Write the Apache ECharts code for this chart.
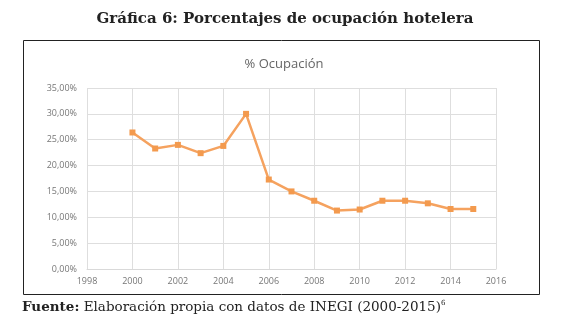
<!DOCTYPE html>
<html>
<head>
<meta charset="utf-8">
<script src="https://cdn.jsdelivr.net/npm/echarts@6/dist/echarts.min.js"></script>
<style>
	html, body { margin: 0; padding: 0; background: #fff; }
	#main { width: 577px; height: 323px; }
</style>
</head>
<body>
<div id="main"></div>
<script>
// años y porcentaje de ocupación
const years = [2000, 2001, 2002, 2003, 2004, 2005, 2006, 2007, 2008, 2009, 2010, 2011, 2012, 2013, 2014, 2015];
const ocupacion = [26.4, 23.3, 24.0, 22.4, 23.8, 30.0, 17.3, 15.0, 13.2, 11.3, 11.5, 13.2, 13.2, 12.7, 11.6, 11.6];

const chart = echarts.init(document.getElementById('main'));

const option = {
	backgroundColor: '#fff',
	animation: false,
	title: [
		{
			text: 'Gráfica 6: Porcentajes de ocupación hotelera',
			left: 280,
			top: 7,
			textAlign: 'center',
			textStyle: { fontFamily: 'DejaVu Serif', fontWeight: 'bold', fontSize: 15, color: '#222' }
		},
		{
			text: '% Ocupación',
			left: 279,
			top: 53,
			textAlign: 'center',
			textStyle: { fontFamily: 'Open Sans', fontWeight: 'normal', fontSize: 13, color: '#666' }
		}
	],
	graphic: [
		{
			type: 'rect',
			shape: { x: 23.5, y: 40.5, width: 516, height: 254 },
			style: { fill: 'none', stroke: '#222', lineWidth: 1 }
		},
		{
			type: 'text',
			left: 22,
			top: 300,
			style: {
				text: '{b|Fuente:} Elaboración propia con datos de INEGI (2000-2015){s|6}',
				rich: {
					b: { fontFamily: 'DejaVu Serif', fontWeight: 'bold', fontSize: 13.5, fill: '#222' },
					s: { fontFamily: 'DejaVu Serif', fontSize: 7, fill: '#222', verticalAlign: 'top', padding: [0, 0, 8, 0] }
				},
				fontFamily: 'DejaVu Serif',
				fontSize: 13.5,
				fill: '#222'
			}
		}
	],
	grid: {
		left: 87,
		right: 81,
		top: 88,
		bottom: 54
	},
	xAxis: {
		type: 'value',
		min: 1998,
		max: 2016,
		interval: 2,
		axisLine: { show: true, lineStyle: { color: '#d9d9d9' } },
		axisTick: { show: false },
		splitLine: { show: true, lineStyle: { color: '#dedede' } },
		axisLabel: {
			color: '#777',
			fontFamily: 'Open Sans',
			fontSize: 9,
			margin: 8,
			formatter: v => String(v)
		}
	},
	yAxis: {
		type: 'value',
		min: 0,
		max: 35,
		interval: 5,
		axisLine: { show: false },
		axisTick: { show: false },
		splitLine: { show: true, lineStyle: { color: '#dedede' } },
		axisLabel: {
			color: '#777',
			fontFamily: 'Open Sans',
			fontSize: 9,
			margin: 10,
			formatter: v => v.toFixed(2).replace('.', ',') + '%'
		}
	},
	series: [
		{
			type: 'line',
			data: years.map((y, i) => [y, ocupacion[i]]),
			symbol: 'rect',
			symbolSize: 6,
			lineStyle: { color: '#F5A25F', width: 2.5 },
			itemStyle: { color: '#F39A4E' }
		}
	]
};

chart.setOption(option);
</script>
</body>
</html>
